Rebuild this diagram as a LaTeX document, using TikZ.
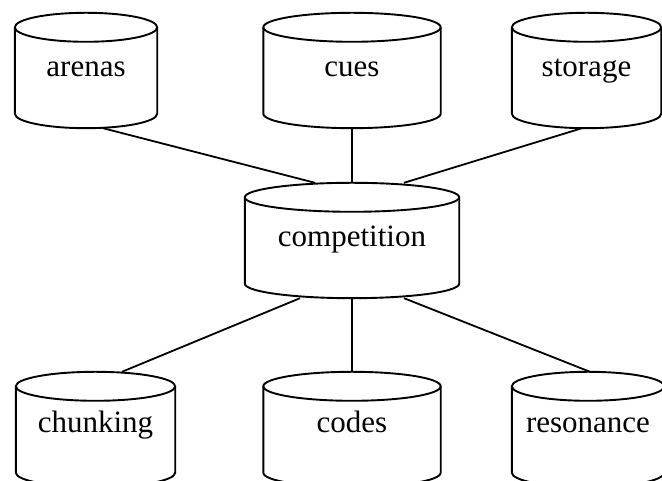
\documentclass[tikz,border=0pt]{standalone}
\usepackage{fontspec}
\setmainfont{Liberation Serif}
\usetikzlibrary{calc}
\pgfdeclarelayer{edgelayer}
\pgfdeclarelayer{cyllayer}
\pgfsetlayers{edgelayer,cyllayer,main}
\tikzset{
  cylnode/.style={rectangle, inner sep=0pt, minimum height=115pt, minimum width=#1,
    text height=28pt, text depth=15pt, font=\fontsize{31}{36}\selectfont},
  lowrow/.style={text height=22pt},
  cylline/.style={line width=1.9pt, line join=round},
  link/.style={line width=1.8pt}
}
\newcommand\cylout[1]{%
  \filldraw[cylline,fill=white] let \p1=(#1.north west), \p2=(#1.south east), \n1={(\x2-\x1)/2} in
    (\x1,\y1-14.5pt) arc[start angle=180,end angle=0,x radius=\n1,y radius=14.5pt]
    -- (\x2,\y2+14.5pt) arc[start angle=0,end angle=-180,x radius=\n1,y radius=14.5pt] -- cycle;
  \draw[cylline] let \p1=(#1.north west), \p2=(#1.south east), \n1={(\x2-\x1)/2} in
    (\x1,\y1-14.5pt) arc[start angle=180,end angle=360,x radius=\n1,y radius=14.5pt];}
\begin{document}
\begin{tikzpicture}[x=1pt,y=1pt]
\useasboundingbox (0,0) rectangle (662,481);
\node[cylnode=142pt] (arenas) at (86,410.5) {arenas};
\node[cylnode=177pt] (cues) at (352,410.5) {cues};
\node[cylnode=149pt] (storage) at (586.5,410.5) {storage};
\node[cylnode=214pt] (competition) at (352,240.5) {competition};
\node[cylnode=159pt, lowrow] (chunking) at (95.5,51.5) {chunking};
\node[cylnode=177pt, lowrow] (codes) at (352,51.5) {codes};
\node[cylnode=152pt, lowrow] (resonance) at (588,51.5) {resonance};
\begin{pgfonlayer}{cyllayer}
\cylout{arenas}
\cylout{cues}
\cylout{storage}
\cylout{competition}
\cylout{chunking}
\cylout{codes}
\cylout{resonance}
\end{pgfonlayer}
\begin{pgfonlayer}{edgelayer}
\fill[white] (0,0) rectangle (662,481);
\draw[link] ([xshift=17pt]arenas.south) -- ([xshift=-37pt]competition.north);
\draw[link] (cues.south) -- (competition.north);
\draw[link] ([xshift=-4.5pt]storage.south) -- ([xshift=52pt]competition.north);
\draw[link] ([xshift=-52pt]competition.south) -- ([xshift=26.5pt]chunking.north);
\draw[link] (competition.south) -- (codes.north);
\draw[link] ([xshift=52pt]competition.south) -- ([xshift=2pt]resonance.north);
\end{pgfonlayer}
\end{tikzpicture}
\end{document}
